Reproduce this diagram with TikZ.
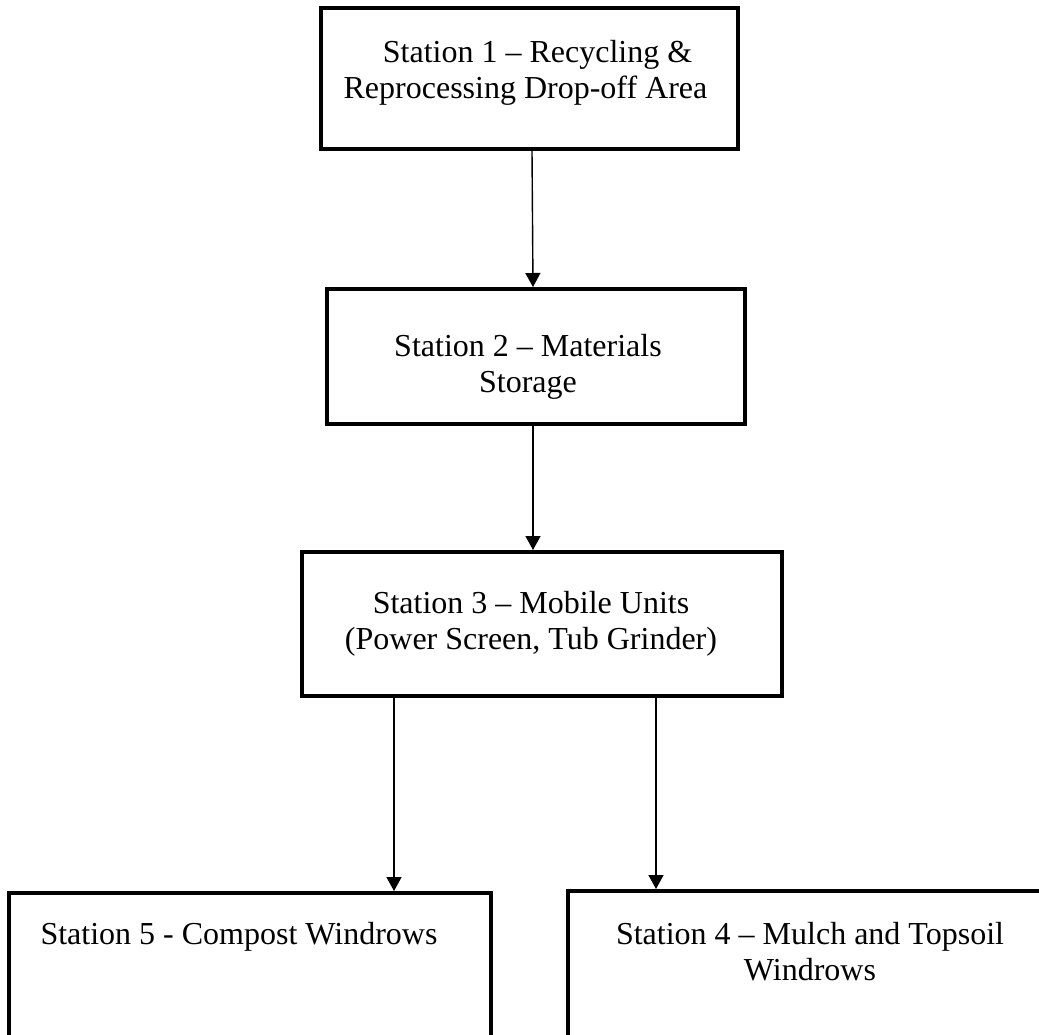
\documentclass[tikz,border=0pt]{standalone}
\usepackage{fontspec}
\setmainfont{Liberation Serif}
\usetikzlibrary{arrows.meta, positioning}
\newcommand{\stationfont}{\fontsize{16pt}{18pt}\selectfont}

\begin{document}
\begin{tikzpicture}[x=0.5pt, y=-0.5pt,
    stationbox/.style={draw=black, line width=2pt, rectangle, inner sep=0pt},
    stationtext/.style={align=center, inner sep=0pt, font=\stationfont},
    flow/.style={line width=0.7pt, -{Triangle[length=7pt, width=7.5pt]}}]

% Frame
\useasboundingbox (0,0) rectangle (1039,1034);
\clip (0,0) rectangle (1039,1034);

% Boxes for the stations
\node[stationbox, minimum width=208.5pt, minimum height=70.5pt] (s1) at (529.5,78.5) {};
\node[stationbox, minimum width=209pt, minimum height=67.5pt] (s2) at (536,356.5) {};
\node[stationbox, minimum width=240pt, minimum height=72pt] (s3) at (542,624) {};
\node[stationbox, minimum width=241pt, minimum height=93.5pt] (s5) at (250,986.5) {}; % runs off the bottom
\node[stationbox, minimum width=256pt, minimum height=94.5pt] (s4) at (824,985.5) {}; % runs off the right

% Texts in the boxes
\node[stationtext] (t1) at (525.5,72.6) {\hspace*{12pt}Station 1 – Recycling \&\\Reprocessing Drop-off Area};
\node[stationtext] (t2) at (528,367) {Station 2 – Materials\\Storage};
\node[stationtext] (t3) at (531,624) {Station 3 – Mobile Units\\(Power Screen, Tub Grinder)};
\node[stationtext] (t5) at (239,936.5) {Station 5 - Compost Windrows};
\node[stationtext] (t4) at (810,951.5) {Station 4 – Mulch and Topsoil\\Windrows};

% Arrows between the stations
\draw[flow] ([xshift=1.25pt]s1.south) -- ([xshift=-1.5pt]s2.north);
\draw[flow] ([xshift=-1.5pt]s2.south) -- ([xshift=-4.5pt]s3.north);
\draw[flow] ([xshift=-74pt]s3.south) -- ([xshift=72pt]s5.north);
\draw[flow] ([xshift=57pt]s3.south) -- ([xshift=-84pt]s4.north);

\end{tikzpicture}
\end{document}
